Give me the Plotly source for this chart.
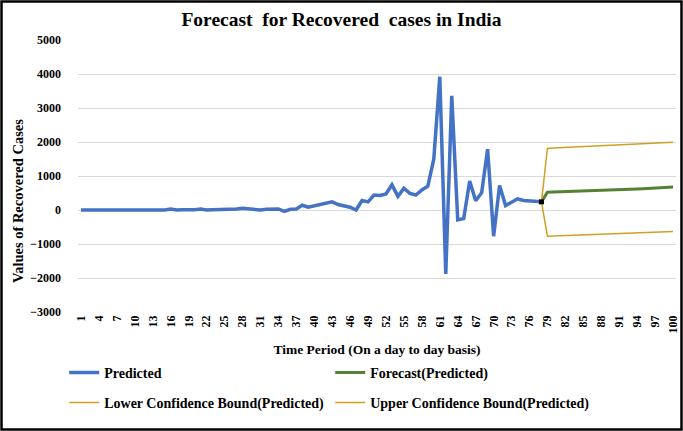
import plotly.graph_objects as go

# Predicted recovered cases, days 1..78
days = list(range(1, 79))
predicted = [0, 0, 0, 0, 0, 0, 0, 0, 0, 0, 0, 0, 0, 0, 0,
             30, 0, 10, 0, 5, 30, 0, 10, 10, 30, 30, 30, 50, 30, 20,
             0, 20, 20, 30, -40, 20, 30, 140, 80, 120,
             170, 220, 240, 160, 130, 80, 0, 280, 240, 440,
             430, 470, 740, 400, 640, 490, 440, 590, 700, 1500,
             3920, -1880, 3360, -290, -250, 850, 270, 510, 1790, -770,
             720, 130, 230, 330, 280, 270, 260, 240]

# Forecast part, days 78..100
fc_days = list(range(78, 101))
forecast = [240, 525, 530, 535, 540, 548, 555, 560, 565, 572, 580, 585,
            592, 600, 606, 612, 620, 628, 636, 645, 655, 665, 680]
lower = [240, -770, -765, -758, -752, -745, -740, -733, -727, -720, -713, -707,
         -700, -694, -688, -681, -675, -669, -662, -656, -650, -644, -630]
upper = [240, 1810, 1820, 1828, 1836, 1845, 1852, 1860, 1868, 1876, 1884, 1892,
         1900, 1908, 1916, 1924, 1932, 1940, 1948, 1956, 1964, 1972, 1990]

tick_days = list(range(1, 101, 3))

serif = 'Liberation Serif'
gold = '#CFA022'

data = [
    go.Scatter(x=days, y=predicted, mode='lines', name='Predicted',
               line=dict(color='#4472C4', width=3.5), legend='legend'),
    go.Scatter(x=fc_days, y=forecast, mode='lines', name='Forecast(Predicted)',
               line=dict(color='#548235', width=3), legend='legend'),
    go.Scatter(x=fc_days, y=lower, mode='lines', name='Lower Confidence Bound(Predicted)',
               line=dict(color=gold, width=1.5), legend='legend2'),
    go.Scatter(x=fc_days, y=upper, mode='lines', name='Upper Confidence Bound(Predicted)',
               line=dict(color=gold, width=1.5), legend='legend2'),
    # little black marker where the forecast starts
    go.Scatter(x=[days[-1]], y=[predicted[-1]], mode='markers', showlegend=False,
               marker=dict(color='black', size=5, symbol='square')),
]

leg_font = dict(family=serif, size=14, color='black', weight='bold')
tick_font = dict(family=serif, size=12, color='black', weight='bold')

layout = go.Layout(
    width=683, height=431,
    margin=dict(l=78, r=7, t=40, b=119, autoexpand=False),
    paper_bgcolor='white', plot_bgcolor='white',
    title=dict(text='<b>Forecast  for Recovered  cases in India</b>',
               x=0.5, xref='container', xanchor='center', y=0.955, yanchor='middle',
               font=dict(family=serif, size=19.5, color='black')),
    xaxis=dict(range=[0.5, 100.5], tickvals=tick_days,
               ticktext=[str(d) for d in tick_days], automargin=False,
               tickangle=-90, showgrid=False, zeroline=False,
               tickfont=tick_font, ticklabeloverflow='allow',
               title=dict(text='<b>Time Period (On a day to day basis)</b>',
                          font=dict(family=serif, size=13.5, color='black'),
                          standoff=19)),
    yaxis=dict(range=[-3000, 5000], dtick=1000, showgrid=True, automargin=False,
               gridcolor='#D9D9D9', gridwidth=1, zeroline=False,
               tickfont=tick_font,
               tickformat='d', ticklabelstandoff=16),
    annotations=[dict(text='<b>Values of Recovered Cases</b>', textangle=-90,
                      xref='paper', yref='paper', x=(18 - 78) / 598, y=(312 - 201) / 272,
                      xanchor='center', yanchor='middle', showarrow=False,
                      font=dict(family=serif, size=14.5, color='black'))],
    legend=dict(orientation='h', xref='container', yref='container',
                x=0.094, y=0.135, xanchor='left', yanchor='middle',
                entrywidth=221, font=leg_font, bgcolor='rgba(0,0,0,0)'),
    legend2=dict(orientation='h', xref='container', yref='container',
                 x=0.094, y=0.065, xanchor='left', yanchor='middle',
                 entrywidth=221, font=leg_font, bgcolor='rgba(0,0,0,0)'),
    showlegend=True,
    shapes=[dict(type='rect', xref='paper', yref='paper',
                 x0=(1.5 - 78) / 598, x1=(681.5 - 78) / 598,
                 y0=(312 - 429.5) / 272, y1=(312 - 1.5) / 272,
                 line=dict(color='black', width=2.5))],
)

fig = go.Figure(data=data, layout=layout)
# drop the default body margin so the figure sits at the page corner
fig.write_html('out.html', config={'displayModeBar': False},
               post_script="document.body.style.margin='0';")
